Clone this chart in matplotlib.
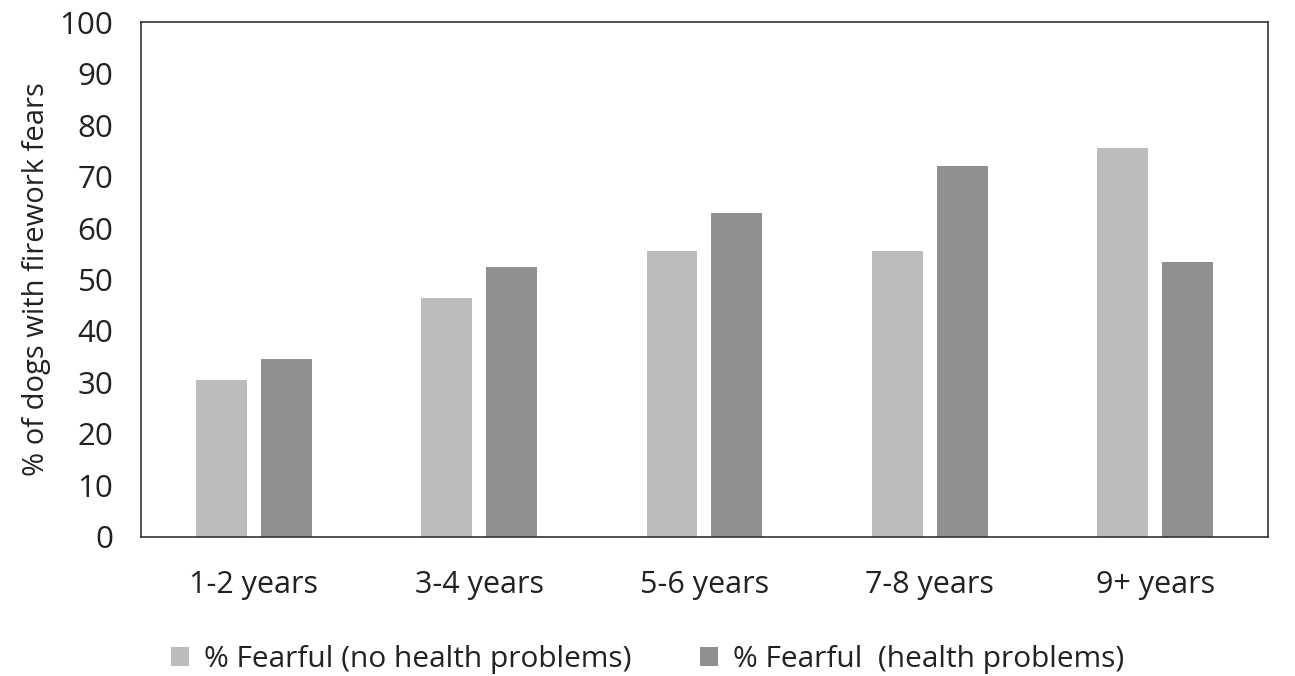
import numpy as np
import matplotlib.pyplot as plt

plt.rcParams['font.family'] = ['Open Sans', 'DejaVu Sans']

categories = ['1-2 years', '3-4 years', '5-6 years', '7-8 years', '9+ years']
no_health = [30.4, 46.4, 55.6, 55.6, 75.6]
health = [34.6, 52.5, 63.0, 72.1, 53.4]
labels = ['% Fearful (no health problems)', '% Fearful  (health problems)']

fig = plt.figure(figsize=(12.95, 6.76), dpi=100)
ax = fig.add_axes([0.109, 0.206, 0.870, 0.761])

x = np.arange(len(categories))
w = 0.226
off = 0.144
ax.bar(x - off, no_health, w, color='#bcbcbc', label=labels[0])
ax.bar(x + off, health, w, color='#8f8f8f', label=labels[1])

ax.set_xlim(-0.5, len(categories) - 0.5)
ax.set_ylim(0, 100)
ax.set_yticks(np.arange(0, 101, 10))
ax.set_xticks(x)
ax.set_xticklabels(categories, fontsize=22)
ax.tick_params(axis='both', length=0, colors='#222222')
ax.tick_params(axis='y', labelsize=22.5, pad=20)
ax.tick_params(axis='x', pad=24)
for s in ax.spines.values():
    s.set_color('#333333')
    s.set_linewidth(1.2)
ax.set_ylabel('% of dogs with firework fears', fontsize=21, color='#222222', labelpad=6)

fig.legend(loc='center', bbox_to_anchor=(0.5, 0.024), ncol=2, frameon=False,
           fontsize=21.5, handlelength=0.6, handleheight=0.6, handletextpad=0.5,
           columnspacing=2.3, labelcolor='#222222')

fig.savefig('out.png', dpi=100)
